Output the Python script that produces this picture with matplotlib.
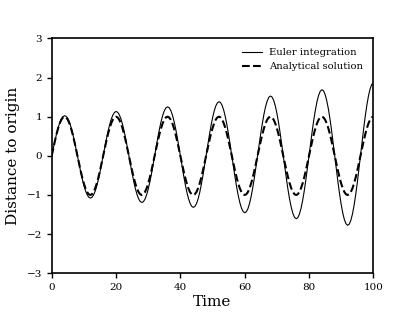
import matplotlib
matplotlib.use("Agg")
import matplotlib.pyplot as plt

# time samples, every half time unit from 0 to 100
time = [i / 2 for i in range(201)]

# values: Euler curve slowly grows, analytical stays at amplitude 1
euler = [
    0.0, 0.1957, 0.3851, 0.5608, 0.7160, 0.8446, 0.9413, 1.0024,
    1.0252, 1.0087, 0.9531, 0.8605, 0.7340, 0.5786, 0.3998, 0.2044,
    0.0, -0.2057, -0.4048, -0.5895, -0.7526, -0.8877, -0.9894, -1.0537,
    -1.0777, -1.0603, -1.0019, -0.9045, -0.7716, -0.6081, -0.4202, -0.2149,
    0.0, 0.2162, 0.4255, 0.6196, 0.7910, 0.9331, 1.0400, 1.1075,
    1.1326, 1.1144, 1.0530, 0.9507, 0.8109, 0.6392, 0.4417, 0.2258,
    0.0, -0.2273, -0.4472, -0.6513, -0.8315, -0.9807, -1.0931, -1.1641,
    -1.1906, -1.1714, -1.1069, -0.9993, -0.8525, -0.6718, -0.4642, -0.2374,
    0.0, 0.2389, 0.4701, 0.6846, 0.8740, 1.0310, 1.1490, 1.2236,
    1.2515, 1.2313, 1.1635, 1.0504, 0.8960, 0.7063, 0.4880, 0.2495,
    0.0, -0.2511, -0.4941, -0.7196, -0.9187, -1.0836, -1.2078, -1.2863,
    -1.3156, -1.2943, -1.2230, -1.1041, -0.9419, -0.7423, -0.5129, -0.2623,
    0.0, 0.2639, 0.5193, 0.7563, 0.9656, 1.1390, 1.2694, 1.3518,
    1.3826, 1.3603, 1.2854, 1.1605, 0.9899, 0.7803, 0.5392, 0.2757,
    0.0, -0.2774, -0.5459, -0.7950, -1.0150, -1.1971, -1.3343, -1.4210,
    -1.4534, -1.4299, -1.3512, -1.2198, -1.0406, -0.8201, -0.5667, -0.2898,
    0.0, 0.2916, 0.5738, 0.8356, 1.0668, 1.2585, 1.4025, 1.4936,
    1.5275, 1.5030, 1.4201, 1.2821, 1.0937, 0.8621, 0.5957, 0.3046,
    0.0, -0.3065, -0.6032, -0.8784, -1.1214, -1.3227, -1.4742, -1.5700,
    -1.6058, -1.5798, -1.4928, -1.3477, -1.1497, -0.9061, -0.6261, -0.3202,
    0.0, 0.3222, 0.6339, 0.9232, 1.1787, 1.3904, 1.5496, 1.6502,
    1.6877, 1.6605, 1.5690, 1.4166, 1.2083, 0.9525, 0.6581, 0.3365,
    0.0, -0.3386, -0.6664, -0.9704, -1.2389, -1.4613, -1.6287, -1.7346,
    -1.7741, -1.7455, -1.6493, -1.4890, -1.2702, -1.0011, -0.6917, -0.3538,
    0.0, 0.3559, 0.7004, 1.0200, 1.3023, 1.5362, 1.7120, 1.8232,
    1.8646,
]
analytical = [
    0.0, 0.1951, 0.3827, 0.5556, 0.7071, 0.8315, 0.9239, 0.9808,
    1.0, 0.9808, 0.9239, 0.8315, 0.7071, 0.5556, 0.3827, 0.1951,
    0.0, -0.1951, -0.3827, -0.5556, -0.7071, -0.8315, -0.9239, -0.9808,
    -1.0, -0.9808, -0.9239, -0.8315, -0.7071, -0.5556, -0.3827, -0.1951,
    0.0, 0.1951, 0.3827, 0.5556, 0.7071, 0.8315, 0.9239, 0.9808,
    1.0, 0.9808, 0.9239, 0.8315, 0.7071, 0.5556, 0.3827, 0.1951,
    0.0, -0.1951, -0.3827, -0.5556, -0.7071, -0.8315, -0.9239, -0.9808,
    -1.0, -0.9808, -0.9239, -0.8315, -0.7071, -0.5556, -0.3827, -0.1951,
    0.0, 0.1951, 0.3827, 0.5556, 0.7071, 0.8315, 0.9239, 0.9808,
    1.0, 0.9808, 0.9239, 0.8315, 0.7071, 0.5556, 0.3827, 0.1951,
    0.0, -0.1951, -0.3827, -0.5556, -0.7071, -0.8315, -0.9239, -0.9808,
    -1.0, -0.9808, -0.9239, -0.8315, -0.7071, -0.5556, -0.3827, -0.1951,
    0.0, 0.1951, 0.3827, 0.5556, 0.7071, 0.8315, 0.9239, 0.9808,
    1.0, 0.9808, 0.9239, 0.8315, 0.7071, 0.5556, 0.3827, 0.1951,
    0.0, -0.1951, -0.3827, -0.5556, -0.7071, -0.8315, -0.9239, -0.9808,
    -1.0, -0.9808, -0.9239, -0.8315, -0.7071, -0.5556, -0.3827, -0.1951,
    0.0, 0.1951, 0.3827, 0.5556, 0.7071, 0.8315, 0.9239, 0.9808,
    1.0, 0.9808, 0.9239, 0.8315, 0.7071, 0.5556, 0.3827, 0.1951,
    0.0, -0.1951, -0.3827, -0.5556, -0.7071, -0.8315, -0.9239, -0.9808,
    -1.0, -0.9808, -0.9239, -0.8315, -0.7071, -0.5556, -0.3827, -0.1951,
    0.0, 0.1951, 0.3827, 0.5556, 0.7071, 0.8315, 0.9239, 0.9808,
    1.0, 0.9808, 0.9239, 0.8315, 0.7071, 0.5556, 0.3827, 0.1951,
    0.0, -0.1951, -0.3827, -0.5556, -0.7071, -0.8315, -0.9239, -0.9808,
    -1.0, -0.9808, -0.9239, -0.8315, -0.7071, -0.5556, -0.3827, -0.1951,
    0.0, 0.1951, 0.3827, 0.5556, 0.7071, 0.8315, 0.9239, 0.9808,
    1.0,
]
x_ticks = [0, 20, 40, 60, 80, 100]
y_ticks = [-3, -2, -1, 0, 1, 2, 3]

plt.rcParams["font.family"] = "DejaVu Serif"

fig = plt.figure(figsize=(4.15, 3.12), dpi=100)
ax = fig.add_axes([0.1246, 0.124, 0.775, 0.753])

ax.plot(time, euler, color="black", linewidth=0.8, label="Euler integration")
ax.plot(time, analytical, color="black", linewidth=1.5, linestyle="--",
        label="Analytical solution")

ax.set_xlim(0, 100)
ax.set_ylim(-3, 3)
ax.set_xticks(x_ticks)
ax.set_yticks(y_ticks)
ax.tick_params(labelsize=7.5, direction="out", length=3.5, width=1,
               top=False, right=False)
for s in ax.spines.values():
    s.set_linewidth(1.2)

ax.set_xlabel("Time", fontsize=11, labelpad=2)
ax.set_ylabel("Distance to origin", fontsize=11, labelpad=5)
ax.legend(loc="upper right", frameon=False, fontsize=7.2,
          handletextpad=0.7, borderaxespad=0.6)

fig.savefig("out.png", dpi=100)
